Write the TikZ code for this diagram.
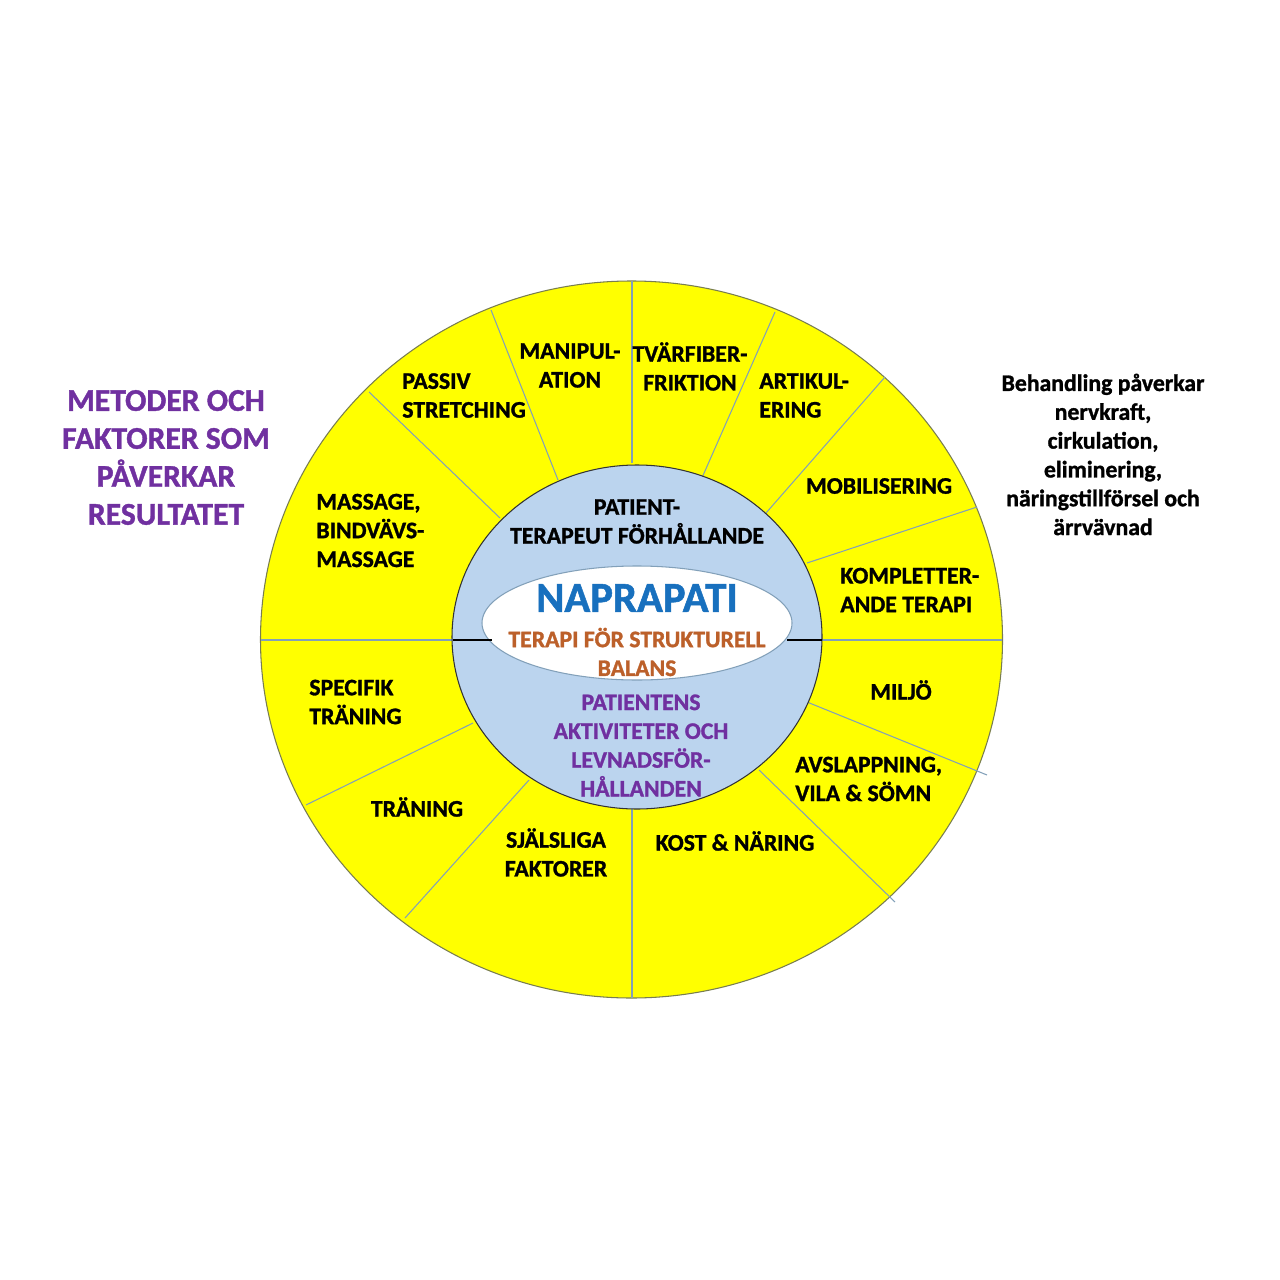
\documentclass[tikz,border=0pt]{standalone}
\usepackage{fontspec}
\setmainfont{Carlito}[BoldFeatures={FakeBold=1.2}]
\definecolor{wheelyellow}{RGB}{255,255,0}
\definecolor{hubblue}{RGB}{187,212,238}
\definecolor{spokegray}{RGB}{130,160,185}
\definecolor{rimgray}{RGB}{120,125,80}
\definecolor{napblue}{RGB}{24,112,190}
\definecolor{rust}{RGB}{188,96,42}
\definecolor{plum}{RGB}{112,48,160}

\begin{document}
\begin{tikzpicture}[x=0.02cm, y=-0.02cm,
  spoke/.style={draw=spokegray, line width=0.6pt},
  seg/.style={font=\fontsize{13.5}{16.4}\selectfont\bfseries, inner sep=0pt}]
  \useasboundingbox (0,0) rectangle (1280,1280);
  \fill[white] (0,0) rectangle (1280,1280);
  % ---- outer wheel ----
  \filldraw[fill=wheelyellow, draw=rimgray, line width=0.6pt] (631.5,639.5) ellipse [x radius=371, y radius=358.5];
  \draw[spoke] (369,392) -- (500,518);
  \draw[spoke] (491,310) -- (558,480);
  \draw[spoke] (632,281) -- (632,463);
  \draw[spoke] (775,312) -- (701,480);
  \draw[spoke] (885,377) -- (766,513);
  \draw[spoke] (977,507) -- (807,563);
  \draw[spoke] (822,640) -- (1002,640);
  \draw[spoke] (261,640) -- (453,640);
  \draw[spoke] (807,702) -- (987,775);
  \draw[spoke] (759,770) -- (895,902);
  \draw[spoke] (632,808) -- (632,998);
  \draw[spoke] (529,780) -- (405,918);
  \draw[spoke] (473,723) -- (306,805);
  % ---- hub ----
  \filldraw[fill=hubblue, draw=black!80, line width=0.6pt] (637,637) ellipse [x radius=185, y radius=172];
  \filldraw[fill=white, draw=spokegray, line width=0.6pt] (637,623) ellipse [x radius=155, y radius=57];
  \draw[black, line width=1.2pt] (453,640) -- (492,640);
  \draw[black, line width=1.2pt] (787,640) -- (822,640);
  % ---- segment labels ----
  \node[seg, align=center] (manip) at (570,365.5) {MANIPUL-\\ATION};
  \node[seg, align=center] (tvarfiber) at (690,366.5) {TVÄRFIBER-\\FRIKTION};
  \node[seg, anchor=west, align=left] (passiv) at (402,395.5) {PASSIV\\STRETCHING};
  \node[seg, anchor=west, align=left] (artikul) at (759,395.5) {ARTIKUL-\\ERING};
  \node[seg] (mobil) at (879,486) {MOBILISERING};
  \node[seg, anchor=west, align=left] (komplett) at (840,590) {KOMPLETTER-\\ANDE TERAPI};
  \node[seg, anchor=west, align=left] (massage) at (316,530.5) {MASSAGE,\\BINDVÄVS-\\MASSAGE};
  \node[seg, anchor=west, align=left] (specifik) at (309,702) {SPECIFIK\\TRÄNING};
  \node[seg] (miljo) at (901,690) {MILJÖ};
  \node[seg, anchor=west, align=left] (avslapp) at (795,779) {AVSLAPPNING,\\VILA \& SÖMN};
  \node[seg] (traning) at (417,807) {TRÄNING};
  \node[seg, align=center] (sjalsliga) at (556,852.5) {SJÄLSLIGA\\FAKTORER};
  \node[seg] (kost) at (735,841) {KOST \& NÄRING};
  % ---- hub labels ----
  \node[seg, align=center] (relation) at (637,521.5) {PATIENT-\\TERAPEUT FÖRHÅLLANDE};
  \node[font=\fontsize{24.3}{28}\selectfont\bfseries, text=napblue, inner sep=0pt] (naprapati) at (637,598) {NAPRAPATI};
  \node[seg, text=rust, align=center] (balans) at (637,652) {TERAPI FÖR STRUKTURELL\\BALANS};
  \node[seg, text=plum, align=center] (aktivitet) at (641,745.5) {PATIENTENS\\AKTIVITETER OCH\\LEVNADSFÖR-\\HÅLLANDEN};
  % ---- side texts ----
  \node[font=\fontsize{18}{21.6}\selectfont\bfseries, text=plum, align=center, inner sep=0pt] (metoder) at (166,457.5) {METODER OCH\\FAKTORER SOM\\PÅVERKAR\\RESULTATET};
  \node[seg, align=center] (behandling) at (1103,454.5) {Behandling påverkar\\nervkraft,\\cirkulation,\\eliminering,\\näringstillförsel och\\ärrvävnad};
\end{tikzpicture}
\end{document}
